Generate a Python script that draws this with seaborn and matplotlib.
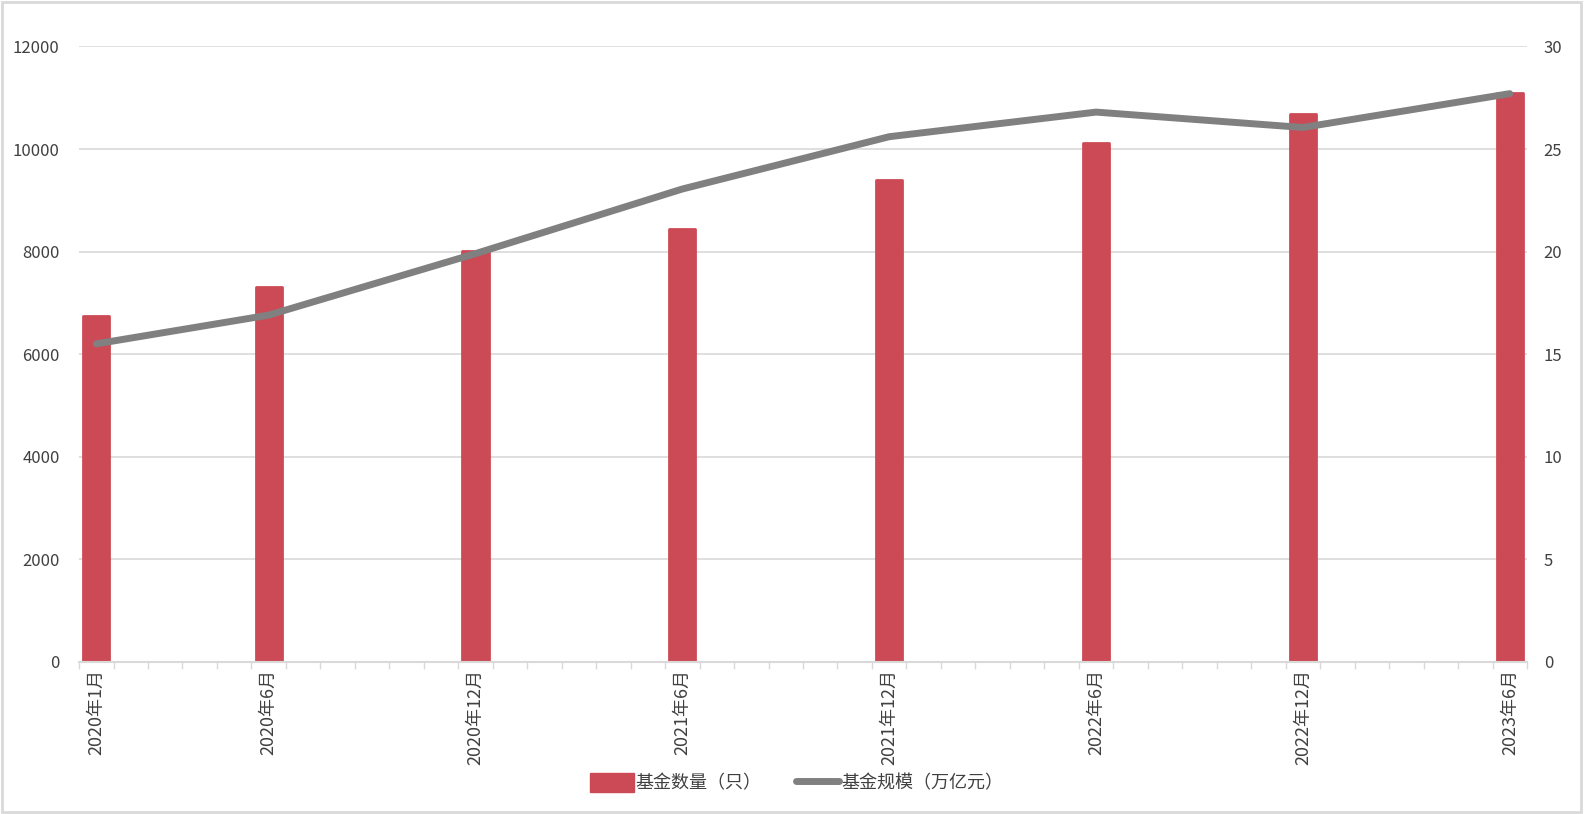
import pandas as pd
import matplotlib
matplotlib.use('Agg')
import matplotlib.pyplot as plt
from matplotlib.patches import Rectangle, Patch
from matplotlib.lines import Line2D
import seaborn as sns

# Data
months = ['2020年1月', '2020年6月', '2020年12月', '2021年6月',
          '2021年12月', '2022年6月', '2022年12月', '2023年6月']
fund_count = [6740, 7310, 8020, 8440, 9400, 10110, 10690, 11100]   # 只
fund_scale = [15.5, 16.9, 19.9, 23.05, 25.6, 26.8, 26.05, 27.7]    # 万亿元

# every month between first and last category (Excel-style category axis)
all_months = [f'{p.year}年{p.month}月' for p in pd.period_range('2020-01', '2023-06', freq='M')]
positions = [all_months.index(m) for m in months]

bar_color = '#CC4A55'
line_color = '#808080'
grid_color = '#D9D9D9'
text_color = '#404040'

sns.set_theme(style='white')
plt.rcParams['font.family'] = ['Noto Sans CJK SC', 'DejaVu Sans']

df = pd.DataFrame({'month': months, 'count': fund_count, 'scale': fund_scale})

fig = plt.figure(figsize=(15.84, 8.14), dpi=100)
ax = fig.add_axes([0.0499, 0.1871, 0.9141, 0.7558])

sns.barplot(data=df, x='month', y='count', order=all_months, color=bar_color,
            saturation=1, width=0.76, ax=ax)
for p in ax.patches:
    p.set_edgecolor(bar_color)
    p.set_linewidth(2)
    p.set_joinstyle('round')

ax.set_xlim(-0.5, len(all_months) - 0.5)
ax.set_ylim(0, 12000)
ax.set_yticks(range(0, 12001, 2000))
ax.yaxis.grid(True, color=grid_color, linewidth=1.2)
ax.set_axisbelow(True)
for s in ax.spines.values():
    s.set_visible(False)
ax.spines['bottom'].set_visible(True)
ax.spines['bottom'].set_color(grid_color)
ax.spines['bottom'].set_linewidth(1.5)

ax.set_xticks(positions)
ax.set_xticklabels(months, rotation=90, va='top', ha='center')
ax.set_xticks([i - 0.5 for i in range(len(all_months) + 1)], minor=True)
ax.tick_params(axis='x', which='major', length=0, pad=5, labelsize=13, colors=text_color)
ax.tick_params(axis='x', which='minor', bottom=True, length=5, width=1, color=grid_color)
ax.tick_params(axis='y', length=0, pad=14, labelsize=12, colors=text_color)
ax.set_xlabel('')
ax.set_ylabel('')

ax2 = ax.twinx()
sns.lineplot(x=positions, y=fund_scale, color=line_color, linewidth=5, ax=ax2)
for ln in ax2.lines:
    ln.set_solid_capstyle('round')
    ln.set_solid_joinstyle('round')
ax2.set_ylim(0, 30)
ax2.set_yticks(range(0, 31, 5))
ax2.tick_params(axis='y', length=0, pad=12, labelsize=12, colors=text_color)
for s in ax2.spines.values():
    s.set_visible(False)
ax2.grid(False)

handles = [Patch(facecolor=bar_color, edgecolor=bar_color),
           Line2D([0], [0], color=line_color, linewidth=5, solid_capstyle='round')]
fig.legend(handles, ['基金数量（只）', '基金规模（万亿元）'], loc='center',
           bbox_to_anchor=(0.503, 0.038), ncol=2, frameon=False, fontsize=13,
           handlelength=2.4, handleheight=1.2, handletextpad=0.1, columnspacing=1.9,
           labelcolor=text_color)

fig.patches.append(Rectangle((0.001, 0.002), 0.997, 0.996, transform=fig.transFigure,
                             fill=False, edgecolor=grid_color, linewidth=2))

fig.savefig('out.png', dpi=100, facecolor='white')
